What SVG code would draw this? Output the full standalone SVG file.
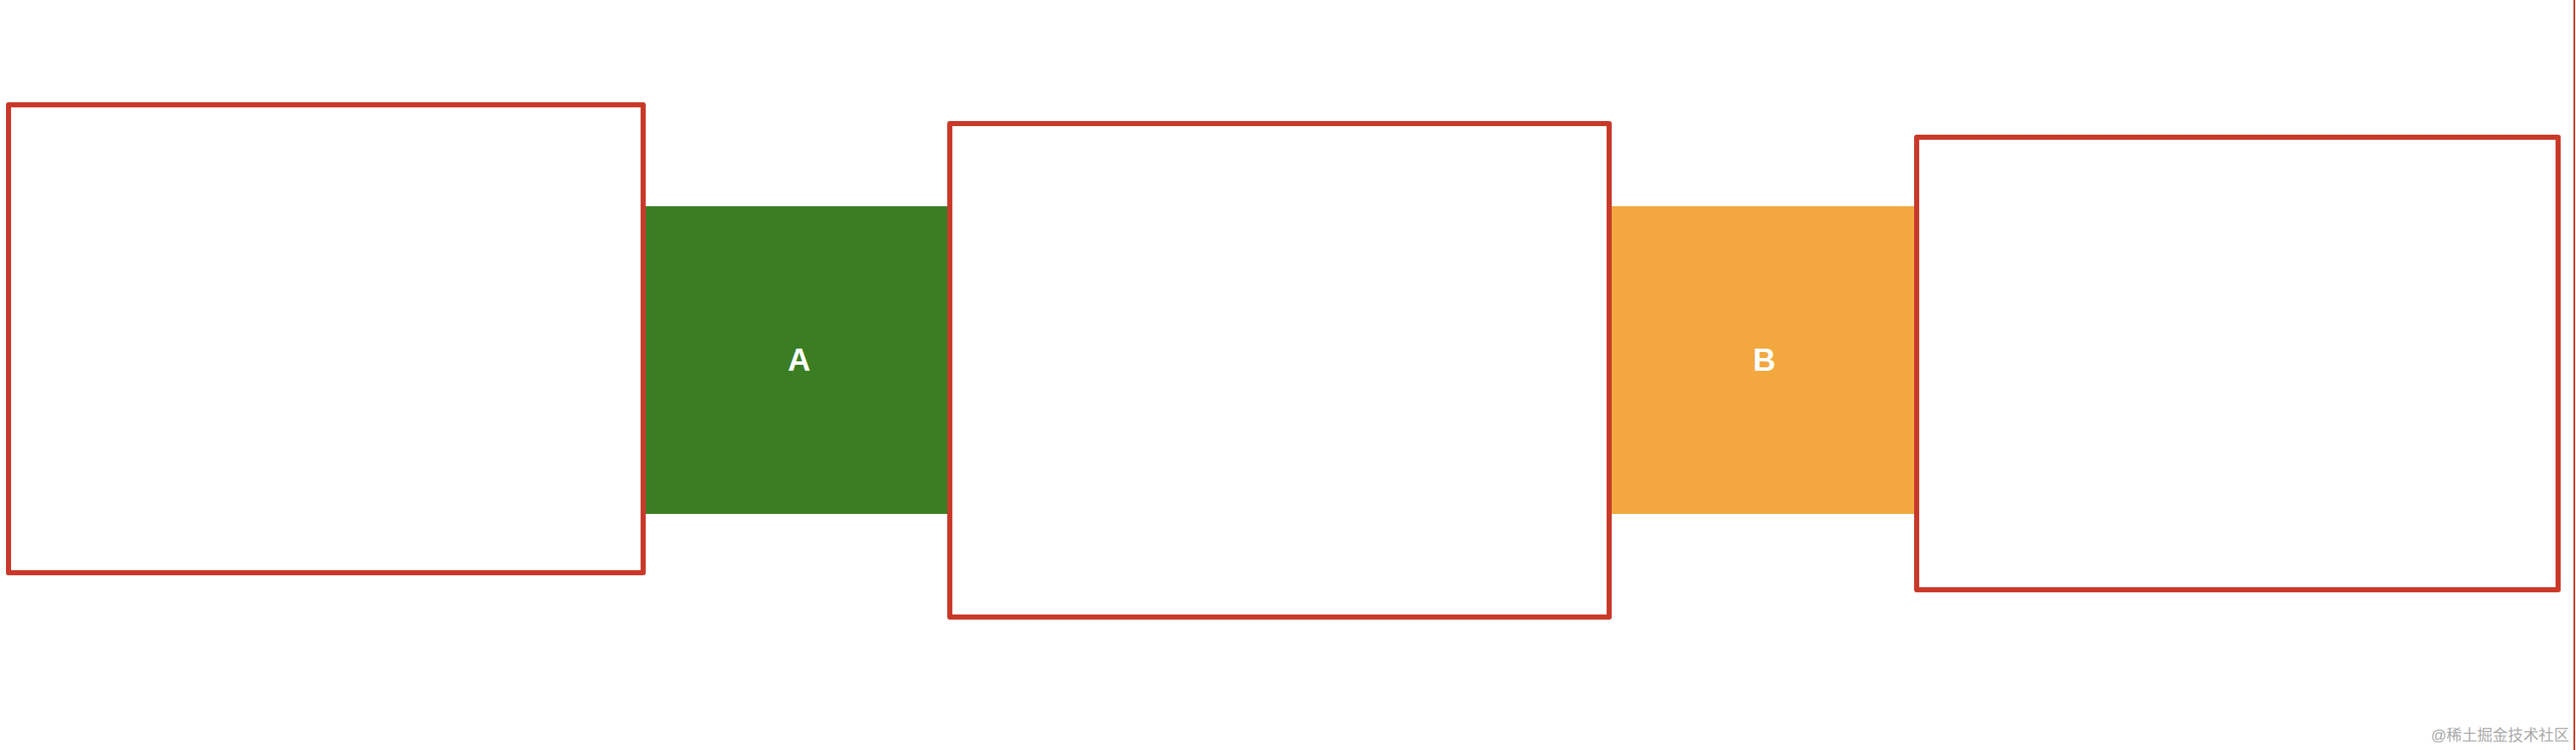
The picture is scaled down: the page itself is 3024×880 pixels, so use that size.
<svg xmlns="http://www.w3.org/2000/svg" width="3024" height="880" viewBox="0 0 3024 880">
<style>
.box{fill:#ffffff;stroke:#C9392A;stroke-width:6;stroke-linejoin:round}
.lbl{font-family:"Liberation Sans",Arial,sans-serif;font-size:37px;font-weight:bold;fill:#ffffff;text-anchor:middle}
.wm{font-family:"Liberation Sans","Noto Sans CJK SC",sans-serif;font-size:18px;fill:#a8a8a8;text-anchor:end}
</style>
<rect width="3024" height="880" fill="#ffffff"/>
<g id="box1"><rect class="box" x="10" y="123" width="745" height="549"/></g>
<g id="nodeA">
<rect x="758" y="242" width="359" height="361" fill="#3A7D22"/>
<text class="lbl" x="938" y="435">A</text>
</g>
<g id="box2"><rect class="box" x="1115" y="145" width="774" height="579"/></g>
<g id="nodeB">
<rect x="1892" y="242" width="356" height="361" fill="#F2A83E"/>
<text class="lbl" x="2071" y="435">B</text>
</g>
<g id="box3"><rect class="box" x="2250" y="161" width="753" height="531"/></g>
<g id="connectors"></g>
<line x1="3022" y1="0" x2="3022" y2="880" stroke="#C9392A" stroke-width="2"/>
<text class="wm" x="3016" y="869">@稀土掘金技术社区</text>
</svg>
